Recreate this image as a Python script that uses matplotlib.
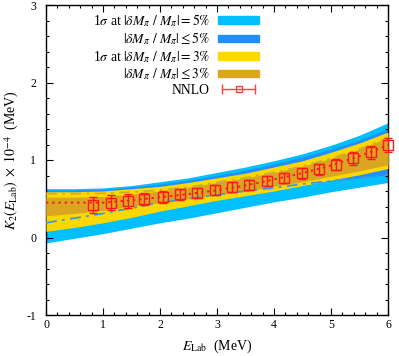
import numpy as np
import matplotlib
matplotlib.use("Agg")
import matplotlib.pyplot as plt
from matplotlib.patches import Patch
from matplotlib.lines import Line2D
from matplotlib.legend_handler import HandlerLine2D, HandlerTuple

plt.rcParams['font.family'] = ['Liberation Serif', 'DejaVu Serif']
plt.rcParams['mathtext.fontset'] = 'stix'
plt.rcParams['axes.unicode_minus'] = False

# ---- data ----
E_grid = [0.0, 0.5, 1.0, 1.5, 2.0, 2.5, 3.0, 3.5, 4.0, 4.5, 5.0, 5.5, 6.0]
cyan_top   = [0.63, 0.63, 0.64, 0.67, 0.72, 0.77, 0.84, 0.91, 0.99, 1.08, 1.19, 1.32, 1.48]
cyan_bot   = [-0.07, -0.01, 0.05, 0.12, 0.19, 0.25, 0.32, 0.39, 0.46, 0.52, 0.59, 0.65, 0.71]
blue_top   = [0.61, 0.61, 0.62, 0.65, 0.69, 0.74, 0.80, 0.87, 0.95, 1.04, 1.14, 1.26, 1.40]
blue_bot   = [0.19, 0.25, 0.31, 0.38, 0.45, 0.50, 0.55, 0.60, 0.64, 0.69, 0.73, 0.77, 0.81]
yellow_top = [0.59, 0.59, 0.60, 0.63, 0.66, 0.71, 0.77, 0.83, 0.91, 0.99, 1.10, 1.22, 1.36]
yellow_bot = [0.08, 0.13, 0.19, 0.26, 0.34, 0.41, 0.48, 0.54, 0.60, 0.67, 0.74, 0.81, 0.89]
gold_top   = [0.52, 0.52, 0.53, 0.56, 0.60, 0.65, 0.71, 0.77, 0.84, 0.92, 1.02, 1.14, 1.29]
gold_bot   = [0.28, 0.31, 0.35, 0.40, 0.45, 0.50, 0.55, 0.60, 0.66, 0.72, 0.79, 0.86, 0.94]
gold_line  = [0.565, 0.565, 0.57, 0.585, 0.61, 0.65, 0.71, 0.77, 0.84, 0.92, 1.02, 1.14, 1.29]
central    = [0.45, 0.45, 0.45, 0.48, 0.52, 0.56, 0.61, 0.67, 0.75, 0.83, 0.93, 1.05, 1.19]

E_pts = [0.82, 1.14, 1.44, 1.72, 2.05, 2.35, 2.65, 2.96, 3.26, 3.56,
         3.88, 4.18, 4.49, 4.79, 5.09, 5.39, 5.70, 6.00]
K_pts = [0.42, 0.45, 0.47, 0.50, 0.52, 0.555, 0.58, 0.61, 0.65, 0.68,
         0.73, 0.77, 0.83, 0.88, 0.94, 1.02, 1.10, 1.19]
K_err = [0.10, 0.10, 0.09, 0.08, 0.075, 0.07, 0.065, 0.065, 0.065, 0.065,
         0.065, 0.065, 0.07, 0.07, 0.075, 0.08, 0.085, 0.09]

labels = [r"1$\sigma$ at $|\delta M_\pi\ /\ M_\pi| = 5\%$",
          r"$|\delta M_\pi\ /\ M_\pi| \leq 5\%$",
          r"1$\sigma$ at $|\delta M_\pi\ /\ M_\pi| = 3\%$",
          r"$|\delta M_\pi\ /\ M_\pi| \leq 3\%$",
          "NNLO"]
xticks = [0, 1, 2, 3, 4, 5, 6]
yticks = [-1, 0, 1, 2, 3]

c_cyan = "#00BFFF"
c_blue = "#1E90FF"
c_yellow = "#FFD700"
c_gold = "#DAA520"
c_red = "#FF1A1A"

fig = plt.figure(figsize=(3.99, 3.56), dpi=100)
ax = fig.add_axes([46/399, 1-315/356, (388-46)/399, (315-5)/356])

ax.fill_between(E_grid, cyan_bot, cyan_top, color=c_cyan, lw=0, zorder=1)
ax.fill_between(E_grid, blue_bot, blue_top, color=c_blue, lw=0, zorder=2)
ax.fill_between(E_grid, yellow_bot, yellow_top, color=c_yellow, lw=0, zorder=3)
ax.fill_between(E_grid, gold_bot, gold_top, color=c_gold, lw=0, zorder=4)
ax.plot(E_grid, gold_line, color="#C9B030", lw=1.3, ls=(0, (6, 3, 1.5, 3)), zorder=5)
ax.plot(E_grid, blue_bot, color="#3A9BE0", lw=1.3, ls=(0, (6, 3, 1.5, 3)), zorder=5)
ax.plot(E_grid, central, color=c_red, lw=1.4, ls=(0, (1.2, 2.0)), zorder=6)
ax.errorbar(E_pts, K_pts, yerr=K_err, fmt='s', ms=6.5, mfc='none', mec=c_red,
            mew=1.0, ecolor=c_red, elinewidth=1.0, capsize=3, capthick=1.0,
            zorder=7, clip_on=False)

ax.set_xlim(0, 6)
ax.set_ylim(-1, 3)
ax.set_xticks(xticks)
ax.set_yticks(yticks)
ax.set_xticklabels([str(v) for v in xticks])
ax.set_yticklabels([str(v) for v in yticks])
ax.set_xticks(np.arange(0, 6.01, 0.2), minor=True)
ax.set_yticks(np.arange(-1, 3.01, 0.2), minor=True)
ax.tick_params(which='both', direction='in', top=True, right=True, labelsize=8.5, width=0.8)
ax.tick_params(which='major', length=5)
ax.tick_params(axis='x', which='major', pad=3)
ax.tick_params(axis='y', which='major', pad=7)
ax.tick_params(which='minor', length=2.5)
for s in ax.spines.values():
    s.set_linewidth(1.0)

ax.set_xlabel(r"$E_{\mathrm{Lab}}$  (MeV)", fontsize=10, labelpad=5)
ax.set_ylabel(r"$K_2(E_{\mathrm{Lab}})\ \times\ 10^{-4}$  (MeV)", fontsize=10, labelpad=4)

# legend
h_cyan = Patch(color=c_cyan)
h_blue = Patch(color=c_blue)
h_yel = Patch(color=c_yellow)
h_gold = Patch(color=c_gold)
l_bar = Line2D([], [], color="#FF4040", lw=1.0, marker='|', ms=7, mew=1.0)
l_sq = Line2D([], [], ls='none', marker='s', ms=5, mfc='none', mec="#FF4040", mew=1.0)
hmap = {l_bar: HandlerLine2D(numpoints=2), l_sq: HandlerLine2D(numpoints=1),
        tuple: HandlerTuple(ndivide=1, pad=0)}
leg = fig.legend([h_cyan, h_blue, h_yel, h_gold, (l_bar, l_sq)], labels,
                 loc='upper right', bbox_to_anchor=(259/399, 1-12/356),
                 frameon=False, markerfirst=False, fontsize=9.8,
                 handlelength=3.0, handleheight=0.5, labelspacing=0.12,
                 handletextpad=0.6, borderpad=0, borderaxespad=0,
                 handler_map=hmap)

fig.savefig("out.png", dpi=100)
